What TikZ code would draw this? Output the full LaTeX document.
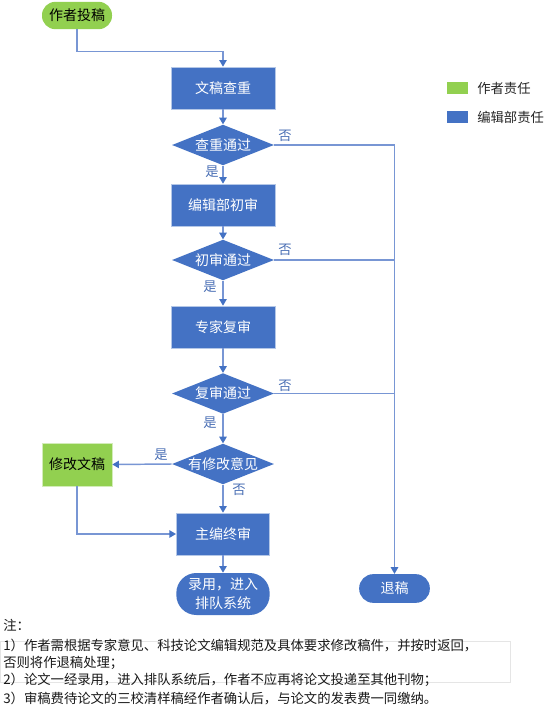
\documentclass[tikz,border=0pt]{standalone}
\usepackage{fontspec}
\setmainfont{Noto Sans CJK SC}
\usetikzlibrary{shapes.geometric,arrows.meta}
\definecolor{bblue}{HTML}{4472C4}
\definecolor{bgreen}{HTML}{92D050}
\definecolor{lblue}{HTML}{7896D4}
\definecolor{lbl}{HTML}{4A6FB5}
\tikzset{
  blk/.style={rectangle, fill=bblue, draw=bblue!40, line width=0.4pt, text=white, minimum width=78pt, minimum height=31.5pt, inner sep=0pt, font=\fontsize{10.5}{13}\selectfont},
  gblk/.style={rectangle, fill=bgreen, draw=bgreen!40, line width=0.4pt, text=black, minimum width=52.5pt, minimum height=32pt, inner sep=0pt, font=\fontsize{10.5}{13}\selectfont},
  dec/.style={diamond, fill=bblue, draw=none, minimum width=76.5pt, minimum height=30.5pt, inner sep=0pt, aspect=2.5},
  dtxt/.style={text=white, font=\fontsize{10.5}{13}\selectfont},
  pill/.style={rectangle, rounded corners=10pt, inner sep=0pt, font=\fontsize{10.5}{13}\selectfont},
  arr/.style={draw=lblue, line width=1.1pt, -{Triangle[length=5pt,width=5.5pt,fill=bblue,color=bblue]}},
  ln/.style={draw=lblue, line width=1.1pt},
  yn/.style={text=lbl, font=\fontsize{10}{12}\selectfont},
  note/.style={anchor=west, inner sep=0pt, text=black!90, font=\fontsize{10}{12}\selectfont},
  lgtxt/.style={anchor=west, inner sep=0pt, text=black!85, font=\fontsize{10}{12}\selectfont}
}
\begin{document}
\begin{tikzpicture}[x=0.75pt,y=-0.75pt]
\useasboundingbox (0,0) rectangle (554,710);
\fill[white] (0,0) rectangle (554,710);
% faint note frame
\draw[black!10, line width=0.6pt] (0,641) rectangle (510,682);

\node[pill, fill=bgreen, text=black, minimum width=52.5pt, minimum height=20.5pt, rounded corners=10pt] (start) at (77,15.5) {作者投稿};
\node[blk] (b1) at (223,88) {文稿查重};
\node[dec, label={[dtxt]center:查重通过}] (d1) at (223,145) {};
\node[blk] (b2) at (223,205) {编辑部初审};
\node[dec, label={[dtxt]center:初审通过}] (d2) at (223,260) {};
\node[blk] (b3) at (223,327) {专家复审};
\node[dec, label={[dtxt]center:复审通过}] (d3) at (223,393.5) {};
\node[dec, label={[dtxt]center:有修改意见}] (d4) at (223,464) {};
\node[gblk] (edit) at (77,464.5) {修改文稿};
\node[blk, minimum width=70pt] (b4) at (223,534) {主编终审};
\node[pill, fill=bblue, text=white, minimum width=70pt, minimum height=31.5pt, rounded corners=15pt, align=center, font=\fontsize{10.5}{14.5}\selectfont] (acc) at (223,594) {录用，进入\\排队系统};
\node[pill, fill=bblue, text=white, minimum width=53pt, minimum height=21.5pt, rounded corners=10.5pt] (rej) at (394.5,588.5) {退稿};

% connectors
\draw[arr] (start.south) -- ++(0,22) -| (b1.north);
\draw[arr] (b1) -- (d1);
\draw[arr] (d1) -- (b2);
\draw[arr] (b2) -- (d2);
\draw[arr] (d2) -- (b3);
\draw[arr] (b3) -- (d3);
\draw[arr] (d3) -- (d4);
\draw[arr] (d4) -- (b4);
\draw[arr] (b4) -- (acc);
\draw[arr] (d4.west) -- (edit.east);
\draw[arr] (edit.south) |- (b4.west);
\draw[arr] (d1.east) -| (rej.north);
\draw[ln] (d2.east) -- (d2 -| rej);
\draw[ln] (d3.east) -- (d3 -| rej);

% yes/no labels
\node[yn] (n1) at (285,136) {否};
\node[yn] (y1) at (212,172) {是};
\node[yn] (n2) at (285,250) {否};
\node[yn] (y2) at (210,287) {是};
\node[yn] (n3) at (285,386) {否};
\node[yn] (y3) at (210,423) {是};
\node[yn] (y4) at (161,455) {是};
\node[yn] (n4) at (239,490) {否};

% legend
\node[rectangle, fill=bgreen, minimum width=15.5pt, minimum height=9pt, inner sep=0pt] (lg1) at (457.5,88) {};
\node[lgtxt] (lt1) at (477,88) {作者责任};
\node[rectangle, fill=bblue, minimum width=15.5pt, minimum height=9pt, inner sep=0pt] (lg2) at (457.5,117) {};
\node[lgtxt] (lt2) at (477,117) {编辑部责任};

% notes
\node[note] (t0) at (3,625) {注：};
\node[note] (t1) at (3,645) {1）作者需根据专家意见、科技论文编辑规范及具体要求修改稿件，并按时返回，};
\node[note] (t2) at (3,662.5) {否则将作退稿处理；};
\node[note] (t3) at (3,680) {2）论文一经录用，进入排队系统后，作者不应再将论文投递至其他刊物；};
\node[note] (t4) at (3,698) {3）审稿费待论文的三校清样稿经作者确认后，与论文的发表费一同缴纳。};
\end{tikzpicture}
\end{document}
